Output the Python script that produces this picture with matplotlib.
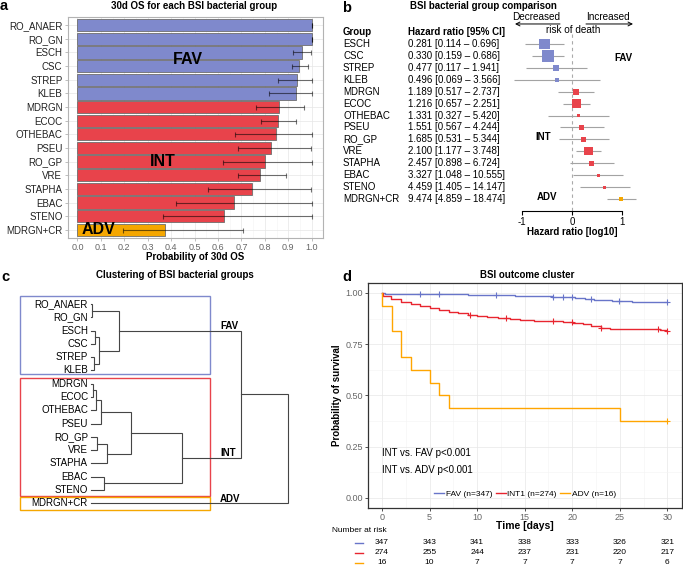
import numpy as np
import matplotlib
matplotlib.use('Agg')
import matplotlib.pyplot as plt
from matplotlib import transforms
from matplotlib.patches import Rectangle
from matplotlib.lines import Line2D
from matplotlib.ticker import MultipleLocator

plt.rcParams['font.family'] = ['Liberation Sans', 'DejaVu Sans']
plt.rcParams['axes.linewidth'] = 0.8

# ---------------- data: panel a (30d OS per group) ----------------
os_groups = ['RO_ANAER', 'RO_GN', 'ESCH', 'CSC', 'STREP', 'KLEB', 'MDRGN', 'ECOC',
             'OTHEBAC', 'PSEU', 'RO_GP', 'VRE', 'STAPHA', 'EBAC', 'STENO', 'MDRGN+CR']
os_cluster = ['FAV'] * 6 + ['INT'] * 9 + ['ADV']
os_prob = [1.0, 1.0, 0.957, 0.947, 0.938, 0.932, 0.859, 0.854, 0.846, 0.825, 0.800,
           0.779, 0.744, 0.667, 0.625, 0.375]
os_lower = [1.0, 1.0, 0.922, 0.915, 0.858, 0.816, 0.761, 0.782, 0.671, 0.684, 0.622,
            0.684, 0.556, 0.420, 0.364, 0.196]
os_upper = [1.0, 1.0, 0.996, 0.986, 1.0, 1.0, 0.969, 0.933, 1.0, 0.996, 1.0,
            0.889, 0.996, 1.0, 1.0, 0.706]

# ---------------- data: panel b (hazard ratios) ----------------
hr_groups = ['ESCH', 'CSC', 'STREP', 'KLEB', 'MDRGN', 'ECOC', 'OTHEBAC', 'PSEU',
             'RO_GP', 'VRE', 'STAPHA', 'EBAC', 'STENO', 'MDRGN+CR']
hr_cluster = ['FAV'] * 4 + ['INT'] * 9 + ['ADV']
hr = [0.281, 0.330, 0.477, 0.496, 1.189, 1.216, 1.331, 1.551, 1.685, 2.100, 2.457,
      3.327, 4.459, 9.474]
hr_low = [0.114, 0.159, 0.117, 0.069, 0.517, 0.657, 0.327, 0.567, 0.531, 1.177, 0.898,
          1.048, 1.405, 4.859]
hr_high = [0.696, 0.686, 1.941, 3.566, 2.737, 2.251, 5.420, 4.244, 5.344, 3.748, 6.724,
           10.555, 14.147, 18.474]
hr_weight = [10.7, 12.3, 5.7, 4.0, 6.3, 9.0, 3.7, 5.3, 4.3, 8.3, 5.0, 3.0, 3.0, 4.3]

# ---------------- data: panel c (dendrogram) ----------------
dend_leaves = os_groups
dend_merges = [  # (child a, child b, height); Mk = k-th merge
    ('RO_ANAER', 'RO_GN', 0.005),   # M0
    ('ESCH', 'CSC', 0.024),         # M1
    ('STREP', 'KLEB', 0.019),       # M2
    ('M1', 'M2', 0.042),            # M3
    ('M0', 'M3', 0.144),            # M4 FAV
    ('MDRGN', 'ECOC', 0.013),       # M5
    ('M5', 'OTHEBAC', 0.025),       # M6
    ('M6', 'PSEU', 0.052),          # M7
    ('RO_GP', 'VRE', 0.030),        # M8
    ('M8', 'STAPHA', 0.084),        # M9
    ('M7', 'M9', 0.205),            # M10
    ('EBAC', 'STENO', 0.069),       # M11
    ('M10', 'M11', 0.462),          # M12 INT
    ('M4', 'M12', 0.761),           # M13
    ('M13', 'MDRGN+CR', 1.0),       # M14
]

# ---------------- data: panel d (Kaplan-Meier) ----------------
km_names = ['FAV', 'INT', 'ADV']
km_labels = ['FAV (n=347)', 'INT1 (n=274)', 'ADV (n=16)']
fav_t = [0, 0.3, 3.0, 9.0, 14.0, 15.0, 17.9, 20.3, 21.3, 22.3, 24.2, 26.3, 28.2]
fav_s = [1.0, 0.997, 0.994, 0.989, 0.987, 0.985, 0.982, 0.977, 0.972, 0.967, 0.963, 0.958, 0.954]
fav_cens = [4.0, 6.0, 12.0, 18.0, 19.0, 20.0, 22.0, 24.9, 30.0]
int_t = [0, 0.1, 1.0, 2.0, 3.0, 4.0, 5.0, 6.0, 7.0, 8.0, 9.0, 10.0, 11.0, 12.2, 13.5,
         14.5, 16.0, 19.0, 20.1, 21.1, 22.0, 23.0, 24.0, 25.5, 29.2, 29.8]
int_s = [1.0, 0.986, 0.972, 0.958, 0.946, 0.935, 0.925, 0.915, 0.907, 0.901, 0.894, 0.889,
         0.883, 0.878, 0.874, 0.870, 0.863, 0.857, 0.853, 0.848, 0.837, 0.827, 0.824,
         0.822, 0.818, 0.814]
int_cens = [9.25, 13.0, 18.0, 20.0, 23.0, 29.0, 30.0]
adv_t = [0, 0.02, 1.05, 2.0, 3.0, 5.0, 6.0, 7.0, 25.0]
adv_s = [1.0, 0.9375, 0.8125, 0.6875, 0.625, 0.5625, 0.5, 0.4375, 0.375]
adv_cens = [30.0]
risk_times = [0, 5, 10, 15, 20, 25, 30]
risk_fav = [347, 343, 341, 338, 333, 326, 321]
risk_int = [274, 255, 244, 237, 231, 220, 217]
risk_adv = [16, 10, 7, 7, 7, 7, 6]

# ---------------- figure helpers ----------------
W, H = 683, 569
fig = plt.figure(figsize=(W / 100, H / 100), dpi=100)
pix = transforms.Affine2D().scale(1 / W, -1 / H).translate(0, 1) + fig.transFigure


def rect(x0, y0, x1, y1):
    return [x0 / W, 1 - y1 / H, (x1 - x0) / W, (y1 - y0) / H]


def ptext(x, y, s, **kw):
    kw.setdefault('ha', 'center')
    kw.setdefault('va', 'center')
    return fig.text(x, y, s, transform=pix, **kw)


COL = {'FAV': '#7F89CC', 'INT': '#E8434B', 'ADV': '#F5A700'}
KMCOL = {'FAV': '#6875C9', 'INT': '#E8252F', 'ADV': '#FFA500'}

# panel letters & titles
for x, y, s in [(4, 6.5, 'a'), (347, 8, 'b'), (5, 277, 'c'), (346.5, 277, 'd')]:
    ptext(x, y, s, fontsize=10.5, fontweight='bold')
ptext(194, 6, '30d OS for each BSI bacterial group', fontsize=7, fontweight='bold')
ptext(483, 6, 'BSI bacterial group comparison', fontsize=7, fontweight='bold')
ptext(175, 275, 'Clustering of BSI bacterial groups', fontsize=7, fontweight='bold')
ptext(527, 275, 'BSI outcome cluster', fontsize=7, fontweight='bold')

# ---------------- panel a ----------------
ax_a = fig.add_axes(rect(68, 17, 323, 238))
ya = np.arange(len(os_groups))
p = np.array(os_prob)
lo = np.array(os_lower)
hi = np.array(os_upper)
ax_a.barh(ya, p, height=0.9, color=[COL[c] for c in os_cluster], edgecolor='#6E6E6E',
          linewidth=0.6, zorder=2)
ax_a.errorbar(p, ya, xerr=[p - lo, hi - p], fmt='none', ecolor='black', alpha=0.55,
              elinewidth=0.8, capsize=1.8, capthick=0.8, zorder=3)
ax_a.set_xlim(-0.04, 1.048)
ax_a.set_ylim(15.6, -0.6)
ax_a.set_yticks(ya)
ax_a.set_yticklabels(os_groups)
xt = np.round(np.arange(0, 1.01, 0.1), 1)
ax_a.set_xticks(xt)
ax_a.set_xticklabels([f'{v:.1f}' for v in xt])
ax_a.xaxis.set_minor_locator(MultipleLocator(0.05))
ax_a.grid(which='major', color='#E6E6E6', lw=0.5)
ax_a.grid(which='minor', axis='x', color='#F3F3F3', lw=0.4)
ax_a.set_axisbelow(True)
for sp in ax_a.spines.values():
    sp.set_color('#B3B3B3')
ax_a.tick_params(axis='x', length=2.5, width=0.6, color='#B3B3B3', pad=1.0,
                 labelsize=6.5, labelcolor='#666666')
ax_a.tick_params(axis='y', length=2.5, width=0.6, color='#B3B3B3', pad=1.5,
                 labelsize=7, labelcolor='#222222')
ax_a.tick_params(which='minor', length=0)
ax_a.text(0.472, 2.5, 'FAV', fontsize=11.5, fontweight='bold', ha='center', va='center', zorder=4)
ax_a.text(0.364, 10.0, 'INT', fontsize=11.5, fontweight='bold', ha='center', va='center', zorder=4)
ax_a.text(0.09, 15.0, 'ADV', fontsize=11.5, fontweight='bold', ha='center', va='center',
          zorder=4, clip_on=True)
ptext(195, 257.5, 'Probability of 30d OS', fontsize=7, fontweight='bold')

# ---------------- panel b ----------------
ax_b = fig.add_axes(rect(500, 10, 650, 210.7))
rb = np.arange(len(hr_groups))
ax_b.hlines(rb, np.log10(hr_low), np.log10(hr_high), color='#A3A3A3', lw=0.8, zorder=1)
ax_b.scatter(np.log10(hr), rb, s=(0.72 * np.array(hr_weight)) ** 2, marker='s',
             c=[COL[c] for c in hr_cluster], linewidths=0, zorder=3)
ax_b.set_xlim(-1.446, 1.554)
ax_b.set_ylim((210.7 - 44) / 11.92, (10 - 44) / 11.92)
ax_b.vlines(0, -0.84, (210.7 - 44) / 11.92, linestyles=(0, (3, 3)), color='#AAAAAA', lw=0.8, zorder=0)
for s in ['left', 'top', 'right']:
    ax_b.spines[s].set_visible(False)
ax_b.spines['bottom'].set_bounds(-1, 1)
ax_b.set_xticks([-1, 0, 1])
ax_b.set_xticklabels(['-1', '0', '1'])
ax_b.set_yticks([])
ax_b.tick_params(axis='x', length=3, width=0.8, labelsize=7, pad=1.5)
ax_b.patch.set_visible(False)
arr = dict(arrowstyle='->', lw=0.7, color='black', shrinkA=0, shrinkB=0, mutation_scale=7)
ax_b.annotate('', xy=(-1.146, -1.68), xytext=(-0.246, -1.68), arrowprops=arr, annotation_clip=False)
ax_b.annotate('', xy=(1.214, -1.68), xytext=(0.274, -1.68), arrowprops=arr, annotation_clip=False)
ax_b.text(-0.726, -2.27, 'Decreased', fontsize=7.2, ha='center', va='center')
ax_b.text(0.714, -2.27, 'Increased', fontsize=7.2, ha='center', va='center')
ax_b.text(0.014, -1.17, 'risk of death', fontsize=7.2, ha='center', va='center')
ax_b.text(1.014, 1.17, 'FAV', fontsize=7, fontweight='bold', ha='center', va='center')
ax_b.text(-0.586, 7.8, 'INT', fontsize=7, fontweight='bold', ha='center', va='center')
ax_b.text(-0.506, 12.85, 'ADV', fontsize=7, fontweight='bold', ha='center', va='center')
ptext(572.5, 232, 'Hazard ratio [log10]', fontsize=7, fontweight='bold')
tb = transforms.blended_transform_factory(pix, ax_b.transData)
fig.text(343, -1, 'Group', transform=tb, fontsize=7, fontweight='bold', va='center')
fig.text(408, -1, 'Hazard ratio [95% CI]', transform=tb, fontsize=7, fontweight='bold', va='center')
for r, g, v, l, h in zip(rb, hr_groups, hr, hr_low, hr_high):
    fig.text(343, r, g, transform=tb, fontsize=7, va='center')
    fig.text(408, r, f'{v:.3f} [{l:.3f} \u2013 {h:.3f}]', transform=tb, fontsize=7, va='center')

# ---------------- panel c ----------------
ax_c = fig.add_axes(rect(15, 290, 300, 515))
ax_c.axis('off')
ax_c.set_xlim(-0.384, 1.0625)
ax_c.set_ylim(15.876, -1.053)
pos = {name: (0.0, float(i)) for i, name in enumerate(dend_leaves)}
for k, (a, b, h) in enumerate(dend_merges):
    xa, y_a = pos[a]
    xb, y_b = pos[b]
    ax_c.plot([xa, h, h, xb], [y_a, y_a, y_b, y_b], color='#454545', lw=0.8,
              solid_joinstyle='miter')
    pos[f'M{k}'] = (h, (y_a + y_b) / 2)
for i, name in enumerate(dend_leaves):
    ax_c.text(-0.0137, i, name, fontsize=7, ha='right', va='center')
ax_c.add_patch(Rectangle((-0.359, -0.62), 0.965, 5.9, fill=False, edgecolor=COL['FAV'], lw=1.0))
ax_c.add_patch(Rectangle((-0.359, 5.55), 0.965, 8.87, fill=False, edgecolor=COL['INT'], lw=1.0))
ax_c.add_patch(Rectangle((-0.359, 14.55), 0.965, 0.95, fill=False, edgecolor=COL['ADV'], lw=1.0))
for lab, node in [('FAV', 'M4'), ('INT', 'M12'), ('ADV', 'MDRGN+CR')]:
    ax_c.text(0.656, pos[node][1] - 0.12, lab, fontsize=7, fontweight='bold',
              ha='left', va='baseline')

# ---------------- panel d ----------------
ax_d = fig.add_axes(rect(367.7, 282.7, 681.7, 508))
km = {'FAV': (fav_t, fav_s, fav_cens), 'INT': (int_t, int_s, int_cens),
      'ADV': (adv_t, adv_s, adv_cens)}
handles = []
for name in km_names:
    t, s, cens = km[name]
    t = np.array(t)
    s = np.array(s)
    ax_d.step(np.r_[t, 30], np.r_[s, s[-1]], where='post', color=KMCOL[name], lw=1.0, zorder=3)
    idx = np.searchsorted(t, cens, side='right') - 1
    ax_d.plot(cens, s[idx], '+', color=KMCOL[name], ms=4, mew=0.8, zorder=3)
    handles.append(Line2D([], [], color=KMCOL[name], lw=1.0))
ax_d.set_xlim(-1.5, 31.5)
ax_d.set_ylim(-0.05, 1.05)
ax_d.set_xticks(risk_times)
ax_d.set_yticks([0, 0.25, 0.5, 0.75, 1.0])
ax_d.set_yticklabels(['0.00', '0.25', '0.50', '0.75', '1.00'])
ax_d.xaxis.set_minor_locator(MultipleLocator(2.5))
ax_d.yaxis.set_minor_locator(MultipleLocator(0.125))
ax_d.grid(which='major', color='#E8E8E8', lw=0.5)
ax_d.grid(which='minor', color='#F4F4F4', lw=0.4)
ax_d.set_axisbelow(True)
for sp in ax_d.spines.values():
    sp.set_color('#333333')
    sp.set_linewidth(0.9)
ax_d.tick_params(length=2.5, width=0.6, color='#333333', pad=1.0, labelsize=6.5,
                 labelcolor='#666666')
ax_d.tick_params(which='minor', length=0)
ax_d.text(0, 0.218, 'INT vs. FAV p<0.001', fontsize=7, ha='left', va='center')
ax_d.text(0, 0.137, 'INT vs. ADV p<0.001', fontsize=7, ha='left', va='center')
ax_d.legend(handles, km_labels, loc='center', bbox_to_anchor=(0.501, 0.062), ncol=3,
            frameon=False, fontsize=6, handlelength=1.2, handletextpad=0.2,
            columnspacing=0.4, borderaxespad=0, borderpad=0)
ptext(525, 526, 'Time [days]', fontsize=7.5, fontweight='bold')
ptext(337, 395, 'Probability of survival', fontsize=7, fontweight='bold', rotation=90)

# risk table
td = transforms.blended_transform_factory(ax_d.transData, pix)
ptext(331.5, 531, 'Number at risk', fontsize=6, ha='left')
for y, name, vals in [(542.7, 'FAV', risk_fav), (552.7, 'INT', risk_int), (562.7, 'ADV', risk_adv)]:
    fig.add_artist(Line2D([355, 362.7], [y, y], transform=pix, color=KMCOL[name], lw=1.0))
    for t, v in zip(risk_times, vals):
        fig.text(t, y, str(v), transform=td, fontsize=6, ha='center', va='center')

fig.savefig('out.png', dpi=100)
